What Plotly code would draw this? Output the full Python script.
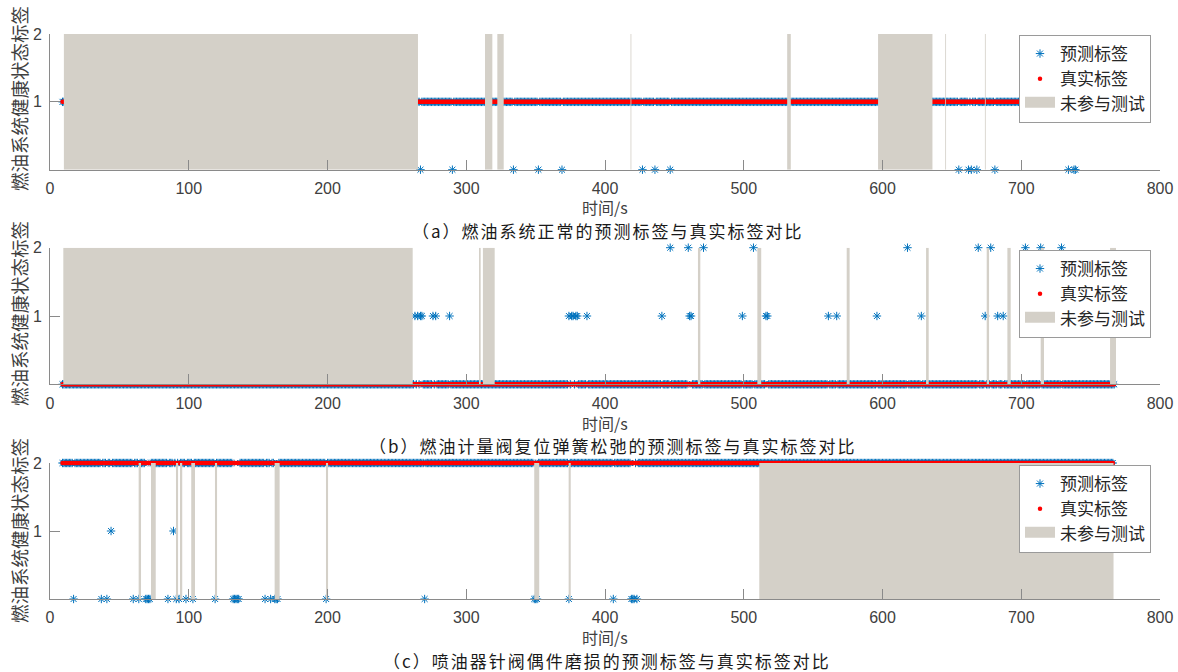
import numpy as np
import plotly.graph_objects as go

# ---------------------------------------------------------------- data
SAMPLE_PERIOD = 1.0          # s, one health-state label per sample
STATE_MAX = 2                # highest health-state label
Y_TICKS = [1, 2]
X_TICKS = [0, 100, 200, 300, 400, 500, 600, 700, 800]

# (a) fuel system normal
span_a = (9, 740)
true_label_a = 1
err_time_a = [267, 290, 334, 352, 369, 427, 436, 447, 655, 662, 664, 668, 681, 734, 738, 739]
err_pred_a = [0, 0, 0, 0, 0, 0, 0, 0, 0, 0, 0, 0, 0, 0, 0, 0]
excl_start_a = [10.0, 313.5, 322.4, 418.4, 531.3, 596.8, 645.2, 673.8]
excl_end_a = [265.2, 318.8, 327.0, 419.0, 533.9, 636.0, 645.8, 674.4]

# (b) metering valve reset spring relaxation
span_b = (9, 767)
true_label_b = 0
err_time_b = [263, 265, 267, 268, 276, 278, 288, 374, 376, 377, 379, 380, 387,
              441, 461, 462, 499, 516, 517, 561, 567, 596, 628, 674, 683, 687,
              447, 460, 471, 507, 618, 669, 678, 703, 714, 729]
err_pred_b = [1, 1, 1, 1, 1, 1, 1, 1, 1, 1, 1, 1, 1,
              1, 1, 1, 1, 1, 1, 1, 1, 1, 1, 1, 1, 1,
              2, 2, 2, 2, 2, 2, 2, 2, 2, 2]
excl_start_b = [9.6, 309.2, 312.0, 467.0, 509.8, 574.2, 631.4, 675.1, 690.0, 714.0, 764.0]
excl_end_b = [261.4, 310.4, 320.5, 468.7, 512.6, 576.3, 633.3, 676.8, 692.4, 716.4, 768.3]

# (c) injector needle valve wear
span_c = (9, 766)
true_label_c = 2
err_time_c = [17, 37, 41, 60, 64, 69, 70, 71, 72, 85, 91, 93, 98, 103, 119,
              132, 133, 134, 135, 136, 155, 159, 162, 163, 164, 199, 270,
              349, 350, 351, 374, 406, 419, 420, 421, 423, 44, 89]
err_pred_c = [0, 0, 0, 0, 0, 0, 0, 0, 0, 0, 0, 0, 0, 0, 0,
              0, 0, 0, 0, 0, 0, 0, 0, 0, 0, 0, 0,
              0, 0, 0, 0, 0, 0, 0, 0, 0, 1, 1]
excl_start_c = [63.9, 72.8, 90.8, 93.7, 101.8, 118.9, 161.9, 198.9, 349.0, 373.8, 511.2]
excl_end_c = [65.6, 76.2, 92.3, 95.3, 104.5, 120.4, 165.5, 200.4, 352.6, 375.3, 766.5]

captions = [
    "（a）燃油系统正常的预测标签与真实标签对比",
    "（b）燃油计量阀复位弹簧松弛的预测标签与真实标签对比",
    "（c）喷油器针阀偶件磨损的预测标签与真实标签对比",
]
Y_TITLE = "燃油系统健康状态标签"
X_TITLE = "时间/s"
NAME_PRED = "预测标签"
NAME_TRUE = "真实标签"
NAME_EXCL = "未参与测试"

panels = [
    (span_a, true_label_a, err_time_a, err_pred_a, excl_start_a, excl_end_a),
    (span_b, true_label_b, err_time_b, err_pred_b, excl_start_b, excl_end_b),
    (span_c, true_label_c, err_time_c, err_pred_c, excl_start_c, excl_end_c),
]

# ---------------------------------------------------------------- style
W, H = 1178, 672
BLUE = "#0072BD"
RED = "#FF0000"
GRAY = "#D4D0C8"
AXIS = "#8a8a8a"
TXT = "#404040"
CJK = "Noto Sans CJK SC"
LAT = "Liberation Sans"

X0_PX, X1_PX = 50, 1160
# (top, bottom) pixel rows of each axes box
ROWS_PX = [(34, 169.7), (247.7, 384.3), (463, 599)]
LEGEND_TOP_PX = [35, 250, 465]
YTITLE_PX = [99, 314, 531]
XTITLE_PX = [207, 423, 637]
CAPTION_PX = [(608, 230), (613, 445), (607, 660.5)]


def px_x(p):
    return p / W


def px_y(p):
    return 1 - p / H


fig = go.Figure()
layout = dict(
    width=W, height=H, autosize=False,
    margin=dict(l=0, r=0, t=0, b=0, autoexpand=False),
    paper_bgcolor="white", plot_bgcolor="white",
    showlegend=True, annotations=[],
)

for i, (span, label, e_t, e_p, ex_s, ex_e) in enumerate(panels):
    k = "" if i == 0 else str(i + 1)
    xa, ya, lg = "x" + k, "y" + k, "legend" + k

    t = np.arange(span[0], span[1] + SAMPLE_PERIOD / 2, SAMPLE_PERIOD)
    truth = np.full(t.shape, label, dtype=float)
    pred = truth.copy()
    for et, ep in zip(e_t, e_p):
        pred[int(np.argmin(np.abs(t - et)))] = ep

    fig.add_trace(go.Scatter(
        x=t, y=pred, mode="markers", name=NAME_PRED, legend=lg,
        xaxis=xa, yaxis=ya, cliponaxis=False,
        marker=dict(symbol="asterisk-open", size=7, color=BLUE,
                    line=dict(color=BLUE, width=1)),
    ))
    fig.add_trace(go.Scatter(
        x=t, y=truth, mode="markers", name=NAME_TRUE, legend=lg,
        xaxis=xa, yaxis=ya, cliponaxis=False,
        marker=dict(symbol="circle", size=4.5, color=RED, line=dict(width=0)),
    ))

    # excluded (not tested) time windows, drawn over the samples
    bx, by = [], []
    for s, e in zip(ex_s, ex_e):
        bx += [s, e, e, s, s, None]
        by += [0, 0, STATE_MAX, STATE_MAX, 0, None]
    fig.add_trace(go.Scatter(
        x=bx, y=by, mode="lines", fill="toself", fillcolor=GRAY,
        line=dict(width=0, color=GRAY), showlegend=False, hoverinfo="skip",
        xaxis=xa, yaxis=ya,
    ))
    # legend entry for the excluded windows
    fig.add_trace(go.Scatter(
        x=[None], y=[None], mode="lines", fill="toself", fillcolor=GRAY,
        line=dict(width=10, color=GRAY), name=NAME_EXCL, legend=lg,
        xaxis=xa, yaxis=ya,
    ))

    top, bot = ROWS_PX[i]
    layout["xaxis" + k] = dict(
        domain=[px_x(X0_PX), px_x(X1_PX)], anchor=ya, range=[0, 800],
        automargin=False,
        tickvals=X_TICKS, ticks="inside", ticklen=10, tickwidth=1,
        tickcolor=AXIS, showline=True, linecolor=AXIS, linewidth=1,
        showgrid=False, zeroline=False, ticklabelstandoff=4,
        tickfont=dict(family=LAT, size=16, color=TXT),
    )
    layout["yaxis" + k] = dict(
        domain=[px_y(bot), px_y(top)], anchor=xa, range=[0, STATE_MAX],
        automargin=False,
        tickvals=Y_TICKS, ticks="inside", ticklen=10, tickwidth=1,
        tickcolor=AXIS, showline=True, linecolor=AXIS, linewidth=1,
        showgrid=False, zeroline=False, ticklabelstandoff=4,
        tickfont=dict(family=LAT, size=16, color=TXT),
    )
    layout[lg] = dict(
        x=px_x(1019), y=px_y(LEGEND_TOP_PX[i]), xanchor="left", yanchor="top",
        bgcolor="white", bordercolor="#9a9a9a", borderwidth=1,
        font=dict(family=CJK, size=17, color="#262626"),
        tracegroupgap=0, itemwidth=30,
    )

    layout["annotations"] += [
        dict(text=Y_TITLE, xref="paper", yref="paper", x=px_x(19),
             y=px_y(YTITLE_PX[i]), textangle=-90, showarrow=False,
             xanchor="center", yanchor="middle",
             font=dict(family=CJK, size=18.5, color=TXT)),
        dict(text=X_TITLE, xref="paper", yref="paper", x=px_x(605),
             y=px_y(XTITLE_PX[i]), showarrow=False,
             xanchor="center", yanchor="middle",
             font=dict(family=CJK, size=16, color=TXT)),
        dict(text='<span style="letter-spacing:2px">' + captions[i] + "</span>",
             xref="paper", yref="paper",
             x=px_x(CAPTION_PX[i][0]), y=px_y(CAPTION_PX[i][1]),
             showarrow=False, xanchor="center", yanchor="middle",
             font=dict(family=CJK, size=17, color="#1a1a1a")),
    ]

fig.update_layout(**layout)
fig.write_html("out.html")
